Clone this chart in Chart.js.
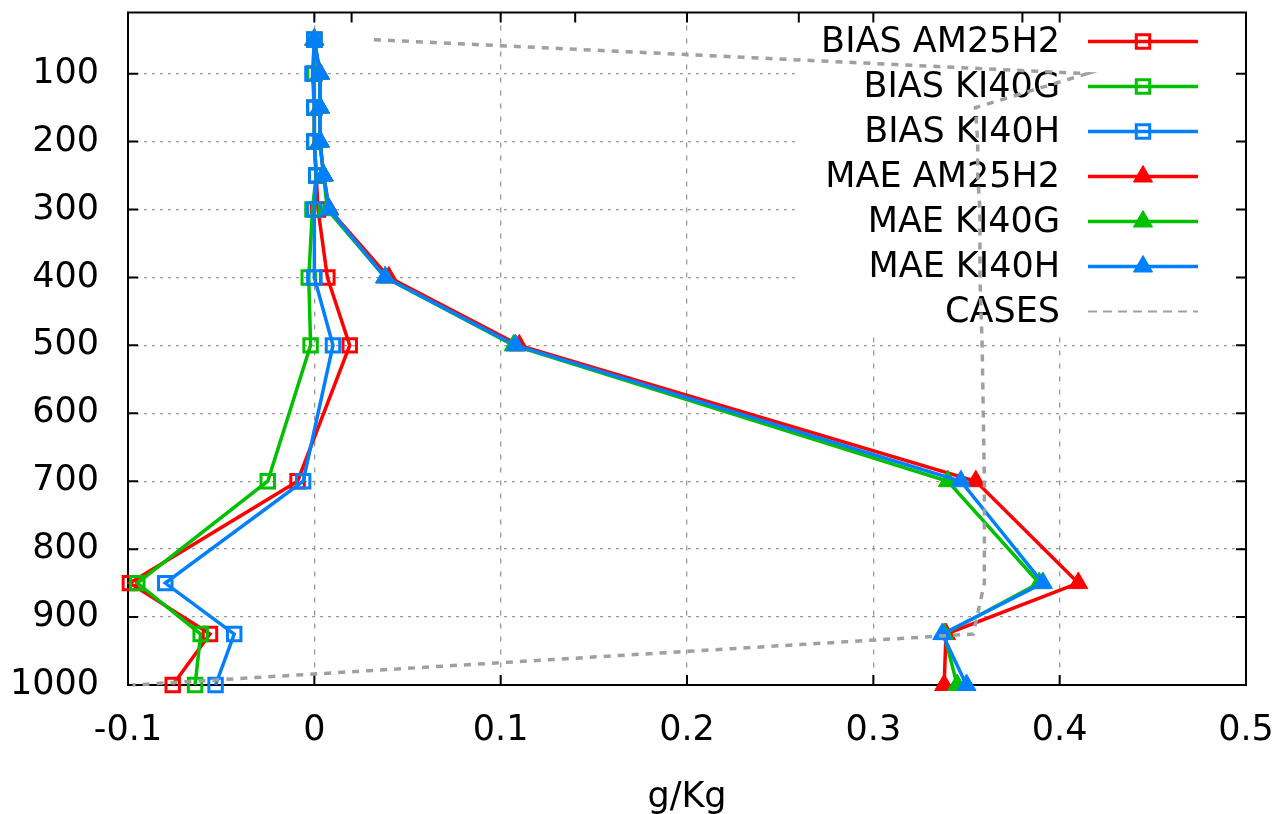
<!DOCTYPE html>
<html><head><meta charset="utf-8">
<script src="https://cdn.jsdelivr.net/npm/chart.js@4/dist/chart.umd.min.js"></script>
<style>html,body{margin:0;padding:0;background:#fff}canvas{display:block}</style>
</head><body>
<canvas id="c" width="1276" height="814"></canvas>
<script>
// ---- data ----
const levels      = [50, 100, 150, 200, 250, 300, 400, 500, 700, 850, 925, 1000];
const biasAM25H2  = [0.000, 0.000, 0.000, 0.000, 0.001, 0.002, 0.007, 0.019, -0.009, -0.099, -0.056, -0.076];
const biasKI40G   = [0.000, 0.000, 0.000, 0.000, 0.001, -0.001, -0.003, -0.002, -0.025, -0.095, -0.061, -0.064];
const biasKI40H   = [0.000, -0.001, 0.000, 0.000, 0.001, 0.000, 0.000, 0.010, -0.006, -0.080, -0.043, -0.053];
const maeAM25H2   = [0.000, 0.003, 0.003, 0.003, 0.005, 0.008, 0.040, 0.110, 0.355, 0.410, 0.339, 0.338];
const maeKI40G    = [0.000, 0.003, 0.003, 0.003, 0.005, 0.007, 0.038, 0.107, 0.340, 0.389, 0.338, 0.345];
const maeKI40H    = [0.000, 0.003, 0.003, 0.003, 0.005, 0.008, 0.038, 0.108, 0.347, 0.391, 0.337, 0.350];
const cases       = [110, 429, 379, 380, 380, 381, 381, 382, 383, 383, 378, 2];
const seriesLabels = ['BIAS AM25H2', 'BIAS KI40G', 'BIAS KI40H', 'MAE AM25H2', 'MAE KI40G', 'MAE KI40H', 'CASES'];
const xTicks  = [-0.1, 0, 0.1, 0.2, 0.3, 0.4, 0.5];
const yTicks  = [100, 200, 300, 400, 500, 600, 700, 800, 900, 1000];
const x2Ticks = [0, 100, 200, 300, 400, 500];
const xTitle  = 'g/Kg';

// ---- styling ----
const FONT = {family: '"DejaVu Sans", sans-serif', size: 35};
const RED = '#ff0000', GREEN = '#00c000', BLUE = '#0080ff', GRAY = '#a0a0a0';
const seriesValues = [biasAM25H2, biasKI40G, biasKI40H, maeAM25H2, maeKI40G, maeKI40H];
const seriesColors = [RED, GREEN, BLUE, RED, GREEN, BLUE];
const seriesStyles = ['rect', 'rect', 'rect', 'triangle', 'triangle', 'triangle'];

function makeDs(i) {
  const tri = seriesStyles[i] === 'triangle';
  const col = seriesColors[i];
  return {
    label: seriesLabels[i],
    data: seriesValues[i].map((v, k) => ({x: v, y: levels[k]})),
    xAxisID: 'x', yAxisID: 'y',
    showLine: true, tension: 0, clip: false,
    borderColor: col, borderWidth: 3.5,
    backgroundColor: col,
    pointStyle: seriesStyles[i],
    pointRadius: tri ? 11 : 9.5,
    pointBorderWidth: tri ? 1 : 3,
    pointBorderColor: col,
    pointBackgroundColor: tri ? col : 'rgba(0,0,0,0)',
    order: 7 - i
  };
}
const datasets = seriesValues.map((_, i) => makeDs(i));
datasets.push({
  label: seriesLabels[6],
  data: cases.map((v, k) => ({x: v, y: levels[k]})),
  xAxisID: 'x2', yAxisID: 'y',
  showLine: true, tension: 0, clip: false,
  borderColor: GRAY, borderWidth: 3.5, borderDash: [7, 7],
  pointRadius: 0, order: 0
});

const noPad = s => { s.paddingTop = 0; s.paddingBottom = 0; s.paddingLeft = 0; s.paddingRight = 0; };

const frameLegend = {
  id: 'frameLegend',
  beforeDatasetsDraw(chart) {
    const {ctx, chartArea: a, scales} = chart;
    ctx.save();
    // opaque key box
    ctx.fillStyle = '#fff';
    ctx.fillRect(a.right - 446, a.top + 2, 444, 320);
    // frame
    ctx.strokeStyle = '#000';
    ctx.lineWidth = 2;
    ctx.setLineDash([]);
    ctx.strokeRect(a.left, a.top, a.right - a.left, a.bottom - a.top);
    // inward ticks
    const TL = 10;
    ctx.beginPath();
    xTicks.forEach(v => {
      const px = scales.x.getPixelForValue(v);
      ctx.moveTo(px, a.bottom); ctx.lineTo(px, a.bottom - TL);
      ctx.moveTo(px, a.top); ctx.lineTo(px, a.top + TL);
    });
    x2Ticks.forEach(v => {
      const px = scales.x2.getPixelForValue(v);
      ctx.moveTo(px, a.top); ctx.lineTo(px, a.top + TL);
    });
    yTicks.forEach(v => {
      const py = scales.y.getPixelForValue(v);
      ctx.moveTo(a.left, py); ctx.lineTo(a.left + TL, py);
      ctx.moveTo(a.right, py); ctx.lineTo(a.right - TL, py);
    });
    ctx.stroke();
    // key entries
    ctx.font = '35px "DejaVu Sans", sans-serif';
    ctx.textAlign = 'right';
    ctx.textBaseline = 'middle';
    chart.data.datasets.forEach((d, i) => {
      const y = a.top + 29 + i * 45;
      ctx.fillStyle = '#000';
      ctx.fillText(d.label, a.right - 186, y + 1);
      ctx.strokeStyle = d.borderColor;
      ctx.lineWidth = i === 6 ? 2 : 3.5;
      ctx.setLineDash(i === 6 ? [9, 6] : []);
      ctx.beginPath();
      ctx.moveTo(a.right - 158, y); ctx.lineTo(a.right - 48, y);
      ctx.stroke();
      ctx.setLineDash([]);
      if (d.pointRadius > 0) {
        ctx.fillStyle = d.pointBackgroundColor;
        ctx.strokeStyle = d.pointBorderColor;
        ctx.lineWidth = d.pointBorderWidth;
        Chart.helpers.drawPoint(ctx, {pointStyle: d.pointStyle, radius: d.pointRadius, rotation: 0, borderWidth: d.pointBorderWidth}, a.right - 103, y);
      }
    });
    ctx.restore();
  }
};

new Chart(document.getElementById('c'), {
  type: 'scatter',
  data: {datasets},
  options: {
    responsive: false, animation: false, devicePixelRatio: 1, events: [],
    layout: {padding: {left: 0, top: 10, right: 30, bottom: 0}},
    plugins: {legend: {display: false}, tooltip: {enabled: false}},
    scales: {
      x: {
        type: 'linear', position: 'bottom', min: -0.1, max: 0.5,
        afterBuildTicks: s => { s.ticks = xTicks.map(v => ({value: v})); },
        afterFit: s => { s.height = 129; noPad(s); },
        ticks: {font: FONT, color: '#000', padding: 25, maxRotation: 0,
          callback: v => String(Math.round(v * 10) / 10)},
        grid: {color: '#999999', lineWidth: 1.3, drawTicks: false},
        border: {display: false, dash: [5, 8]},
        title: {display: true, text: xTitle, font: FONT, color: '#000', padding: {top: 0, bottom: -5}}
      },
      x2: {
        type: 'linear', position: 'top', min: 0, max: 500, display: true,
        afterBuildTicks: s => { s.ticks = x2Ticks.map(v => ({value: v})); },
        afterFit: s => { s.height = 0; noPad(s); },
        ticks: {display: false}, grid: {display: false, drawTicks: false}, border: {display: false}
      },
      y: {
        type: 'linear', reverse: true, min: 10, max: 1000,
        afterBuildTicks: s => { s.ticks = yTicks.map(v => ({value: v})); },
        afterFit: s => { s.width = 128; noPad(s); },
        ticks: {font: FONT, color: '#000', padding: 29, callback: v => String(v)},
        grid: {color: '#999999', lineWidth: 1.3, drawTicks: false},
        border: {display: false, dash: [3, 5]}
      }
    }
  },
  plugins: [frameLegend]
});
</script>
</body></html>
